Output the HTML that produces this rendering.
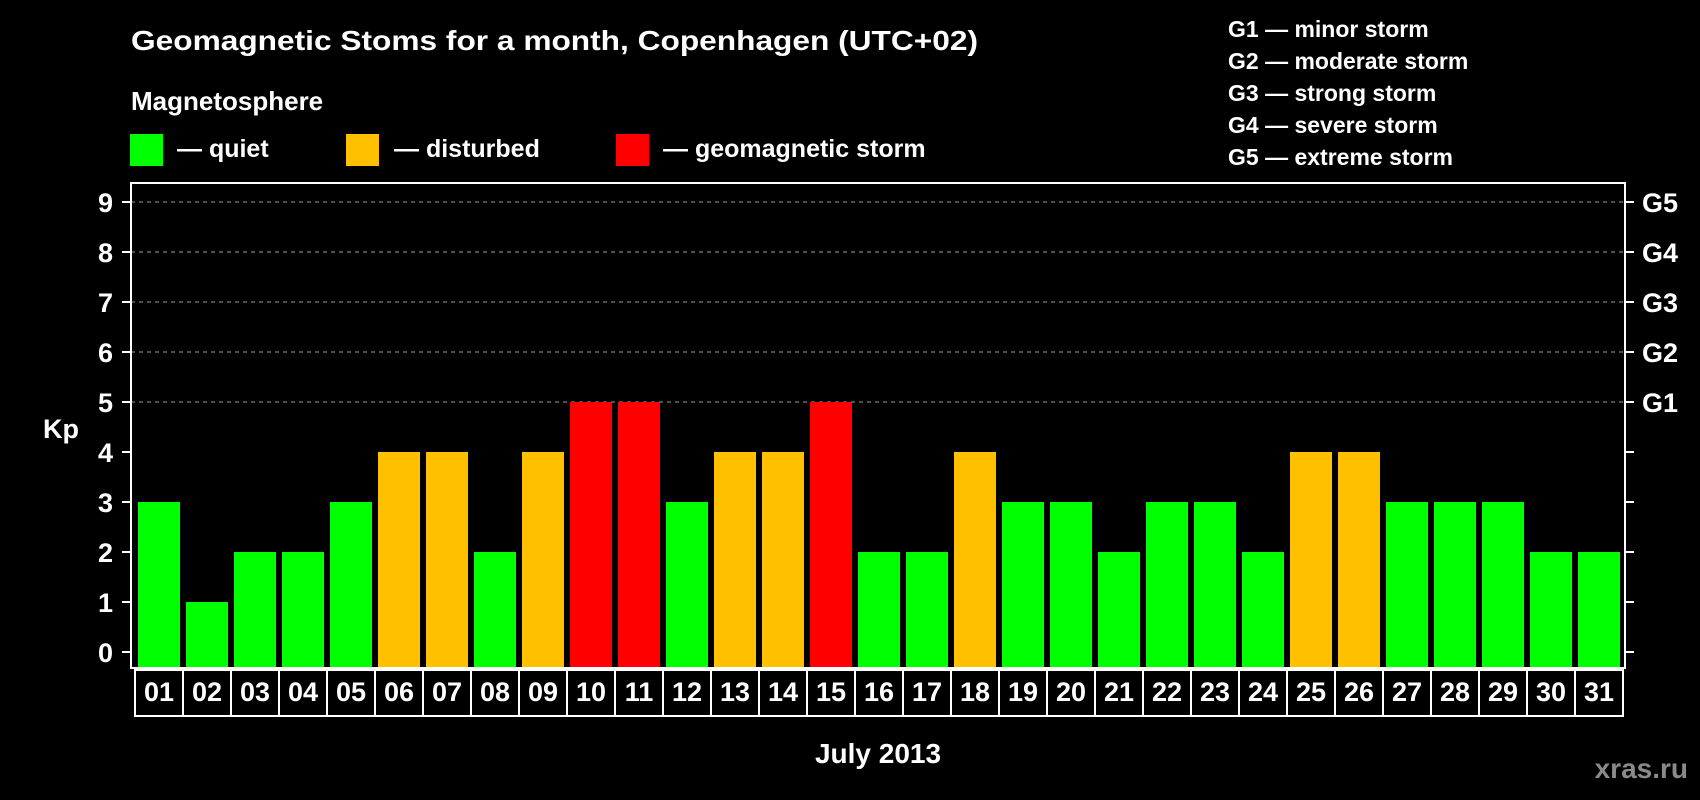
<!DOCTYPE html>
<html><head><meta charset="utf-8"><style>
html,body{margin:0;padding:0;background:#000;}
svg{display:block;font-family:"Liberation Sans",Arial,sans-serif;font-weight:bold;}
</style></head><body>
<svg id="chart" width="1700" height="800" viewBox="0 0 1700 800">
<rect x="0" y="0" width="1700" height="800" fill="#000"/>
<text x="131" y="50" fill="#fff" font-size="28" textLength="847" lengthAdjust="spacingAndGlyphs">Geomagnetic Stoms for a month, Copenhagen (UTC+02)</text>
<text x="131" y="110" fill="#fff" font-size="26">Magnetosphere</text>
<g>
<rect x="130" y="134" width="33" height="32" fill="#00ff00"/>
<text x="177" y="157" fill="#fff" font-size="25">— quiet</text></g>
<g>
<rect x="346" y="134" width="33" height="32" fill="#ffc000"/>
<text x="394" y="157" fill="#fff" font-size="25">— disturbed</text></g>
<g>
<rect x="616" y="134" width="33" height="32" fill="#ff0000"/>
<text x="663" y="157" fill="#fff" font-size="25">— geomagnetic storm</text></g>
<g font-size="23" fill="#fff">
<text x="1228" y="37">G1 — minor storm</text>
<text x="1228" y="69">G2 — moderate storm</text>
<text x="1228" y="101">G3 — strong storm</text>
<text x="1228" y="133">G4 — severe storm</text>
<text x="1228" y="165">G5 — extreme storm</text>
</g>
<text x="43" y="438" fill="#fff" font-size="27">Kp</text>
<text x="878" y="763" fill="#fff" font-size="28" text-anchor="middle">July 2013</text>
<text x="1688" y="778" fill="#8a8a8a" font-size="28" text-anchor="end">xras.ru</text>
<g id="plot"></g>
</svg>
<script>
const days = ["01","02","03","04","05","06","07","08","09","10","11","12","13","14","15","16","17","18","19","20","21","22","23","24","25","26","27","28","29","30","31"];
const kpValues = [3,1,2,2,3,4,4,2,4,5,5,3,4,4,5,2,2,4,3,3,2,3,3,2,4,4,3,3,3,2,2];
const yTicks = [0,1,2,3,4,5,6,7,8,9];
const gLabels = ["G1","G2","G3","G4","G5"];
const gLevels = [5,6,7,8,9];

const NS = "http://www.w3.org/2000/svg";
const plot = document.getElementById('plot');
const L = 131, R = 1625, T = 183, B = 668;
const y0 = 652, unit = 50;
function yScale(v){ return y0 - v*unit; }
const pitch = 48, barW = 42, firstX = 138;
function xScale(i){ return firstX + i*pitch; }
function mk(tag, attrs){ const e = document.createElementNS(NS, tag); for (const k in attrs) e.setAttribute(k, attrs[k]); plot.appendChild(e); return e; }
function colorFor(v){ return v >= 5 ? "#ff0000" : (v >= 4 ? "#ffc000" : "#00ff00"); }

// grid lines
gLevels.forEach(v => {
  const ln = mk('line', {x1:L, x2:R, y1:yScale(v), y2:yScale(v), stroke:"#9a9a9a", "stroke-width":1, "stroke-dasharray":"4,4"});
  
  
});
// bars
kpValues.forEach((v,i) => {
  const r = mk('rect', {x:xScale(i), y:yScale(v), width:barW, height:B - yScale(v), fill:colorFor(v)});
  
  
});
// frame
const fr = mk('rect', {x:L, y:T, width:R-L, height:B-T, fill:"none", stroke:"#fff", "stroke-width":2});


// y ticks
yTicks.forEach(v => {
  const t1 = mk('line', {x1:L-9, x2:L, y1:yScale(v), y2:yScale(v), stroke:"#fff", "stroke-width":2});
  
  
  const t2 = mk('line', {x1:R, x2:R+9, y1:yScale(v), y2:yScale(v), stroke:"#fff", "stroke-width":2});
  
  
  const tx = mk('text', {x:113, y:yScale(v)+10, fill:"#fff", "font-size":27, "text-anchor":"end"});
  tx.textContent = v;
  
  
});
gLevels.forEach((v,i) => {
  const tx = mk('text', {x:1642, y:yScale(v)+10, fill:"#fff", "font-size":27});
  tx.textContent = gLabels[i];
  
  
});
// day boxes
days.forEach((d,i) => {
  const bx = mk('rect', {x:xScale(i)-3, y:670, width:pitch, height:46, fill:"none", stroke:"#fff", "stroke-width":2});
  
  
  const tx = mk('text', {x:xScale(i)-3+pitch/2, y:701, fill:"#fff", "font-size":27, "text-anchor":"middle"});
  tx.textContent = d;
  
  
});
</script>
</body></html>
